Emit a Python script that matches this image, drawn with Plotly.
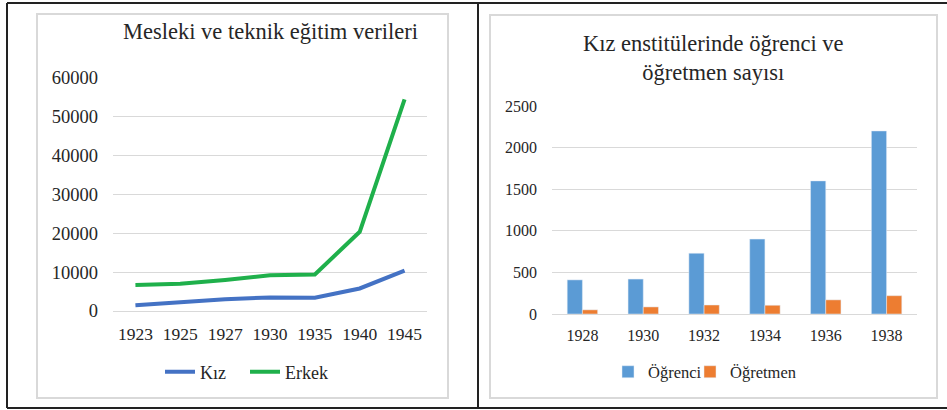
import plotly.graph_objects as go

W, H = 947, 410

# Left chart data
years_left = ["1923", "1925", "1927", "1930", "1935", "1940", "1945"]
kiz = [1500, 2300, 3000, 3500, 3400, 5800, 10400]
erkek = [6700, 7000, 8000, 9200, 9400, 20400, 54500]

# Right chart data
years_right = ["1928", "1930", "1932", "1934", "1936", "1938"]
ogrenci = [410, 420, 730, 900, 1600, 2200]
ogretmen = [50, 85, 108, 105, 170, 220]

title_left = "Mesleki ve teknik eğitim verileri"
title_right = "Kız enstitülerinde öğrenci ve<br>öğretmen sayısı"

FONT = "Liberation Serif, Times New Roman, serif"
GRID = "#d9d9d9"
TXT = "#262626"


def px(x):
    return x / W


def py(y):
    return 1 - y / H


fig = go.Figure()

fig.add_trace(go.Scatter(x=years_left, y=kiz, mode="lines", name="Kız",
                         line=dict(color="#4472C4", width=4), showlegend=True,
                         xaxis="x", yaxis="y", legend="legend"))
fig.add_trace(go.Scatter(x=years_left, y=erkek, mode="lines", name="Erkek",
                         line=dict(color="#1FB04B", width=4), showlegend=True,
                         xaxis="x", yaxis="y", legend="legend2"))

fig.add_trace(go.Bar(x=years_right, y=ogrenci, name="Öğrenci",
                     marker=dict(color="#5B9BD5"), showlegend=True,
                     xaxis="x2", yaxis="y2", legend="legend3"))
fig.add_trace(go.Bar(x=years_right, y=ogretmen, name="Öğretmen",
                     marker=dict(color="#ED7D31"), showlegend=True,
                     xaxis="x2", yaxis="y2", legend="legend4"))

shapes = []
# outer dark frame
dark = dict(color="#222222", width=2)
shapes.append(dict(type="line", xref="paper", yref="paper", x0=px(7), x1=1, y0=py(3), y1=py(3), line=dark))
shapes.append(dict(type="line", xref="paper", yref="paper", x0=px(7), x1=1, y0=py(408), y1=py(408), line=dark))
shapes.append(dict(type="line", xref="paper", yref="paper", x0=px(7), x1=px(7), y0=py(3), y1=py(408), line=dark))
shapes.append(dict(type="line", xref="paper", yref="paper", x0=px(478), x1=px(478), y0=py(3), y1=py(408), line=dark))
# inner chart frames
light = dict(color="#d9d9d9", width=2)
shapes.append(dict(type="rect", xref="paper", yref="paper", x0=px(37), x1=px(448), y0=py(398), y1=py(14), line=light))
shapes.append(dict(type="rect", xref="paper", yref="paper", x0=px(490), x1=px(937), y0=py(398), y1=py(15), line=light))


def leg(x_left, size):
    return dict(orientation="h", x=px(x_left), y=py(372), xanchor="left", yanchor="middle",
                font=dict(size=size, family=FONT, color=TXT),
                bgcolor="rgba(0,0,0,0)", itemwidth=30, tracegroupgap=0, visible=True)


fig.update_layout(
    width=W, height=H,
    showlegend=True,
    margin=dict(l=0, r=0, t=0, b=0, pad=0, autoexpand=False),
    paper_bgcolor="white", plot_bgcolor="white",
    font=dict(family=FONT, color=TXT),
    shapes=shapes,
    barmode="group", bargap=0.5, bargroupgap=0,
    xaxis=dict(domain=[px(113), px(427)], type="category", range=[-0.5, 6.5],
               showgrid=False, showline=False, zeroline=False, ticks="",
               tickfont=dict(size=17.5, family=FONT, color=TXT),
               ticklabelstandoff=10, anchor="y", fixedrange=True, automargin=False),
    yaxis=dict(domain=[py(311), py(78)], range=[0, 60000], dtick=10000,
               showgrid=True, gridcolor=GRID, gridwidth=1,
               zeroline=True, zerolinecolor=GRID, zerolinewidth=1,
               showline=False, ticks="", tickformat="d",
               tickfont=dict(size=18.5, family=FONT, color=TXT),
               ticklabelstandoff=14, anchor="x", fixedrange=True, automargin=False),
    xaxis2=dict(domain=[px(552), px(917)], type="category", range=[-0.5, 5.5],
                showgrid=False, showline=False, zeroline=False, ticks="",
                tickfont=dict(size=16, family=FONT, color=TXT),
                ticklabelstandoff=10, anchor="y2", fixedrange=True, automargin=False),
    yaxis2=dict(domain=[py(314), py(106)], range=[0, 2500], dtick=500,
                showgrid=True, gridcolor=GRID, gridwidth=1,
                zeroline=True, zerolinecolor=GRID, zerolinewidth=1,
                showline=False, ticks="", tickformat="d",
                tickfont=dict(size=16, family=FONT, color=TXT),
                ticklabelstandoff=14, anchor="x2", fixedrange=True, automargin=False),
    legend=leg(160, 18),
    legend2=leg(245, 18),
    legend3=leg(608, 16.5),
    legend4=leg(690, 16.5),
    annotations=[
        dict(text=title_left, xref="paper", yref="paper", x=px(270), y=py(32),
             xanchor="center", yanchor="middle", showarrow=False,
             font=dict(size=22.5, family=FONT, color=TXT)),
        dict(text=title_right, xref="paper", yref="paper", x=px(713), y=py(58),
             xanchor="center", yanchor="middle", showarrow=False,
             font=dict(size=22.5, family=FONT, color=TXT)),
    ],
)

fig.write_html("out.html", config={"displayModeBar": False},
               post_script="document.body.style.margin='0';document.body.style.overflow='hidden';")
